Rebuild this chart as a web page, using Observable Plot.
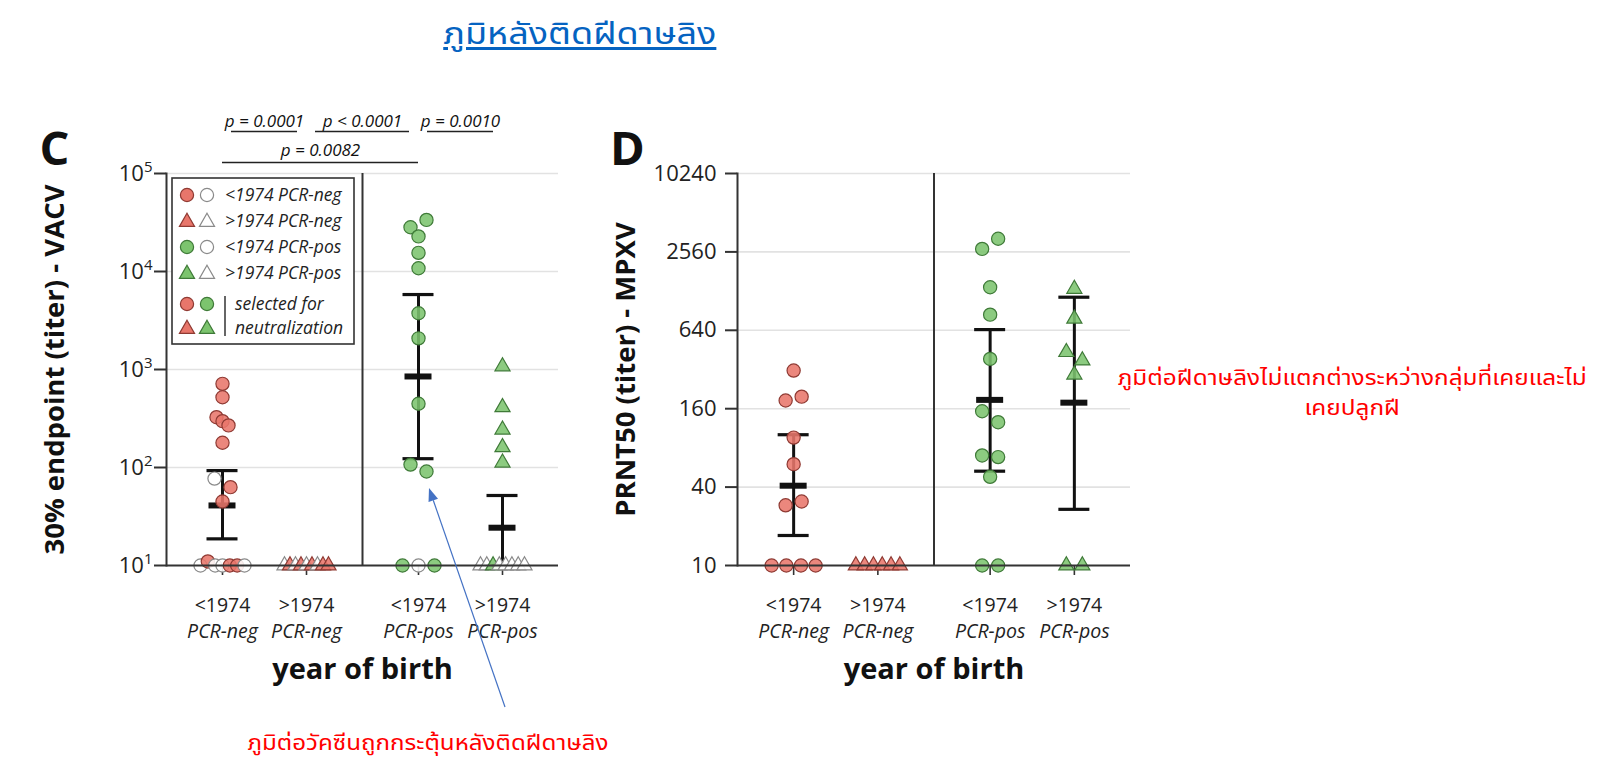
<!DOCTYPE html>
<html><head><meta charset="utf-8">
<script src="https://cdn.jsdelivr.net/npm/d3@7"></script>
<script src="https://cdn.jsdelivr.net/npm/@observablehq/plot@0.6"></script>
<style>
html,body{margin:0;padding:0;background:#fff;}
#page{position:relative;width:1601px;height:779px;overflow:hidden;background:#fff;}
.abs{position:absolute;}
.thai{font-family:Tahoma,"Leelawadee UI","Noto Sans Thai","Noto Sans Thai UI","Loma","Garuda","Noto Sans",sans-serif;}
.thai span{display:inline-block;transform-origin:50% 50%;}
#title{left:330px;width:500px;top:12px;text-align:center;font-size:30px;color:#0563C1;}
#title span{text-decoration:underline;text-underline-offset:3px;transform:scaleX(1.2);}
#noteRight{left:1092px;width:520px;top:364px;text-align:center;font-size:21px;line-height:30px;color:#ff0000;}
#noteRight span{transform:scaleX(1.16);}
#noteBottom{left:178px;width:500px;top:729px;text-align:center;font-size:21px;line-height:30px;color:#ff0000;}
#noteBottom span{transform:scaleX(1.15);}
</style></head>
<body><div id="page">
<div id="title" class="abs thai"><span>ภูมิหลังติดฝีดาษลิง</span></div>
<div id="noteRight" class="abs thai"><span>ภูมิต่อฝีดาษลิงไม่แตกต่างระหว่างกลุ่มที่เคยและไม่</span><br><span>เคยปลูกฝี</span></div>
<div id="noteBottom" class="abs thai"><span>ภูมิต่อวัคซีนถูกกระตุ้นหลังติดฝีดาษลิง</span></div>
</div>
<script>
// ---------------- DATA ----------------
const groupYears = ["<1974", ">1974", "<1974", ">1974"];
const groupPCR = ["PCR-neg", "PCR-neg", "PCR-pos", "PCR-pos"];

// Panel C: 30% endpoint titer (VACV); sel = 1 selected for neutralization (coloured), 0 = open symbol
const vacvOldNeg = [714, 521, 326, 297, 269, 179, 77, 63, 45, 10, 11, 10, 10, 10, 10, 10];
const vacvOldNegSel = [1, 1, 1, 1, 1, 1, 0, 1, 1, 0, 1, 0, 0, 1, 1, 0];
const vacvYoungNeg = [10, 10, 10, 10, 10, 10, 10, 10, 10];
const vacvYoungNegSel = [0, 1, 0, 1, 0, 1, 0, 1, 1];
const vacvOldPos = [28300, 33600, 22800, 15500, 10800, 3750, 2080, 447, 107, 91, 10, 10, 10];
const vacvOldPosSel = [1, 1, 1, 1, 1, 1, 1, 1, 1, 1, 1, 0, 1];
const vacvYoungPos = [1075, 412, 243, 161, 112, 10, 10, 10, 10, 10, 10, 10, 10];
const vacvYoungPosSel = [1, 1, 1, 1, 1, 0, 0, 1, 0, 0, 0, 0, 0];
const vacvMean = [41, null, 849, 24.3];
const vacvLow = [18.7, null, 123, 10];
const vacvHigh = [93, null, 5820, 51.8];
const vacvTicks = [10, 100, 1000, 10000, 100000];

// p-value brackets (panel C)
const pLabels = ["p = 0.0001", "p < 0.0001", "p = 0.0010", "p = 0.0082"];
const pFrom = [0, 1, 2, 0];
const pTo = [1, 2, 3, 2];
const pTier = [2, 2, 2, 1];

// Panel D: PRNT50 titer (MPXV)
const mpxvOldNeg = [314, 185, 198, 96, 60, 29, 31, 10, 10, 10, 10];
const mpxvYoungNeg = [10, 10, 10, 10, 10, 10];
const mpxvOldPos = [2700, 3230, 1370, 844, 386, 153, 126, 70, 68, 48, 10, 10];
const mpxvYoungPos = [1330, 785, 435, 375, 292, 10, 10];
const mpxvMean = [41, null, 187, 178];
const mpxvLow = [17, null, 53, 27];
const mpxvHigh = [101, null, 648, 1149];
const mpxvTicks = [10, 40, 160, 640, 2560, 10240];

// legend entries
const legendRows = ["<1974 PCR-neg", ">1974 PCR-neg", "<1974 PCR-pos", ">1974 PCR-pos"];
const legendSel = ["selected for", "neutralization"];

// ---------------- STYLE ----------------
const FILL = {neg: "#e8766b", pos: "#7cc46e"};
const STROKE = {neg: "#8f3a33", pos: "#3f7a38"};
const OPEN_STROKE = "#8a8a8a";
const AXIS = "#333";
const FONT = "'Open Sans', 'DejaVu Sans', sans-serif";

const groupPos = groupYears.map((_, i) => i + 1 + (i >= 2 ? 1 / 3 : 0));
const sepPos = (groupPos[1] + groupPos[2]) / 2;
const xDomain = [1 / 3, 5];

function dodge(vals, yFn, unitPx) {
  const idx = vals.map((v, i) => i).sort((a, b) => (yFn(vals[a]) - yFn(vals[b])) || (a - b));
  const offs = new Array(vals.length).fill(0);
  let row = [];
  const flush = () => {
    const m = row.slice().sort((a, b) => a - b);
    const n = m.length;
    const spread = yFn(vals[row[row.length - 1]]) - yFn(vals[row[0]]);
    const base = spread > 6 && n > 2 ? 6 : 16;
    const sp = n > 1 ? Math.min(base, 44 / (n - 1)) : 0;
    m.forEach((k, j) => offs[k] = (j - (n - 1) / 2) * sp / unitPx);
    row = [];
  };
  for (const i of idx) {
    if (row.length && yFn(vals[i]) - yFn(vals[row[0]]) > 11) flush();
    row.push(i);
  }
  if (row.length) flush();
  return offs;
}

function buildPoints(valArrs, selArrs, yFn, unitPx) {
  const pts = [];
  valArrs.forEach((vals, g) => {
    const offs = dodge(vals, yFn, unitPx);
    const kind = groupPCR[g] === "PCR-neg" ? "neg" : "pos";
    vals.forEach((v, i) => {
      const sel = selArrs ? selArrs[g][i] : 1;
      pts.push({
        x: groupPos[g] + offs[i], y: v,
        shape: groupYears[g] === "<1974" ? "circle" : "triangle",
        fill: sel ? FILL[kind] : "#ffffff",
        stroke: sel ? STROKE[kind] : OPEN_STROKE
      });
    });
  });
  return pts;
}

function panel(cfg) {
  const {width, height, ml, mr, mt, mb, yDomain, ticks, tickFormat, tickPadding, points, mean, low, high, yTitle, letter, letterDx, brackets} = cfg;
  const unitPx = (width - ml - mr) / (xDomain[1] - xDomain[0]);
  const capW = 15.5 / unitPx, meanW = 13.5 / unitPx;
  const eb = mean.map((m, g) => ({x: groupPos[g], m, lo: low[g], hi: high[g]})).filter(d => d.m != null);
  const circles = points.filter(d => d.shape === "circle");
  const tris = points.filter(d => d.shape === "triangle");
  const C = {textAnchor: "middle", lineAnchor: "middle"};
  const marks = [
    Plot.gridY(ticks.slice(1), {stroke: "#e2e2e2", strokeOpacity: 1, strokeWidth: 1.6}),
    Plot.ruleX([sepPos], {y1: yDomain[0], y2: yDomain[1], stroke: AXIS, strokeWidth: 2}),
    Plot.axisY(ticks, {tickSize: 12, tickFormat: () => "", stroke: AXIS, strokeWidth: 2, label: null}),
    Plot.text(ticks, {y: d => d, frameAnchor: "left", textAnchor: "end", lineAnchor: "middle", dx: -(12 + tickPadding), text: tickFormat, fontSize: 22, fill: "#222"}),
    Plot.axisX(groupPos, {tickSize: 10, tickFormat: () => "", stroke: AXIS, strokeWidth: 1.6, label: null}),
    Plot.frame({anchor: "left", stroke: AXIS, strokeWidth: 2}),
    Plot.text(groupYears, {...C, x: (d, i) => groupPos[i], frameAnchor: "bottom", dy: 51, lineHeight: 1.36,
      text: (d, i) => d + "\n" + groupPCR[i], fontSize: 19.5, fill: "#222"}),
    Plot.text(["year of birth"], {...C, frameAnchor: "bottom", dy: 104, text: d => d, fontSize: 29, fontWeight: "bold", fill: "#111"}),
    Plot.text([yTitle], {...C, frameAnchor: "left", dx: -111, rotate: -90, text: d => d, fontSize: 27.5, fontWeight: "bold", fill: "#111"}),
    Plot.text([letter], {...C, frameAnchor: "top-left", dx: letterDx, dy: -24, text: d => d, fontSize: 47, fontWeight: "bold", fill: "#111"}),
    Plot.ruleX(eb, {x: "x", y1: "lo", y2: "hi", stroke: "#111", strokeWidth: 3}),
    Plot.ruleY(eb, {y: "hi", x1: d => d.x - capW, x2: d => d.x + capW, stroke: "#111", strokeWidth: 3.2}),
    Plot.ruleY(eb, {y: "lo", x1: d => d.x - capW, x2: d => d.x + capW, stroke: "#111", strokeWidth: 3.2}),
    Plot.ruleY(eb, {y: "m", x1: d => d.x - meanW, x2: d => d.x + meanW, stroke: "#111", strokeWidth: 6}),
    Plot.dot(circles, {x: "x", y: "y", r: 6.6, symbol: "circle", fill: "fill", stroke: "stroke", strokeWidth: 1.2, fillOpacity: 0.88}),
    Plot.dot(tris, {x: "x", y: "y", r: 5.6, symbol: "triangle", fill: "fill", stroke: "stroke", strokeWidth: 1.2, fillOpacity: 0.88}),
    Plot.ruleY([yDomain[0]], {stroke: AXIS, strokeWidth: 2})
  ];
  if (brackets) {
    const inset = 9 / unitPx;
    const br = pLabels.map((t, i) => ({
      t, tier: pTier[i],
      x1: groupPos[pFrom[i]] + (pTier[i] === 2 ? inset : 0),
      x2: groupPos[pTo[i]] - (pTier[i] === 2 ? inset : 0)
    }));
    const top = yDomain[1];
    const t2 = br.filter(d => d.tier === 2), t1 = br.filter(d => d.tier === 1);
    marks.push(
      Plot.ruleY(t2, {y: () => top, x1: "x1", x2: "x2", dy: -42, stroke: "#222", strokeWidth: 1.5}),
      Plot.ruleY(t1, {y: () => top, x1: "x1", x2: "x2", dy: -11, stroke: "#222", strokeWidth: 1.5}),
      Plot.text(t2, {...C, y: () => top, x: d => (d.x1 + d.x2) / 2, text: "t", dy: -52, fontSize: 17, fontStyle: "italic", fill: "#111"}),
      Plot.text(t1, {...C, y: () => top, x: d => (d.x1 + d.x2) / 2, text: "t", dy: -23, fontSize: 17, fontStyle: "italic", fill: "#111"})
    );
  }
  const svg = Plot.plot({
    width, height, marginLeft: ml, marginRight: mr, marginTop: mt, marginBottom: mb,
    x: {type: "linear", domain: xDomain, axis: null},
    y: {type: "log", domain: yDomain, axis: null},
    color: {type: "identity"},
    style: {fontFamily: FONT, fontSize: "20px", background: "transparent", overflow: "visible", color: "#222"},
    marks
  });
  // italic second line (PCR status) of the category labels
  d3.select(svg).selectAll("text tspan").each(function () {
    if (/^PCR-/.test(this.textContent)) d3.select(this).attr("font-style", "italic");
  });
  // superscript exponents for the power-of-ten tick labels
  d3.select(svg).selectAll("text").each(function () {
    const t = this.textContent;
    if (!/^10\^\d$/.test(t)) return;
    const e = t.slice(3);
    const s = d3.select(this);
    s.text(null);
    s.append("tspan").text("10");
    s.append("tspan").attr("dy", "-0.55em").attr("font-size", "15px").text(e);
  });
  return svg;
}

const page = document.getElementById("page");

// Panel C
{
  const W = 580, H = 700, ml = 166, mr = 22, mt = 173, mb = 135;
  const yD = [10, 1e5];
  const yFn = d3.scaleLog().domain(yD).range([H - mb, mt]);
  const unitPx = (W - ml - mr) / (xDomain[1] - xDomain[0]);
  const pts = buildPoints([vacvOldNeg, vacvYoungNeg, vacvOldPos, vacvYoungPos],
    [vacvOldNegSel, vacvYoungNegSel, vacvOldPosSel, vacvYoungPosSel], yFn, unitPx);
  const svg = panel({width: W, height: H, ml, mr, mt, mb, yDomain: yD, ticks: vacvTicks,
    tickFormat: d => "10^" + Math.round(Math.log10(d)), tickPadding: 2, points: pts,
    mean: vacvMean, low: vacvLow, high: vacvHigh, yTitle: "30% endpoint (titer) - VACV",
    letter: "C", letterDx: -112, brackets: true});
  svg.style.position = "absolute"; svg.style.left = "0px"; svg.style.top = "0px";
  page.appendChild(svg);
}

// Panel D
{
  const W = 570, H = 700, ml = 157, mr = 20, mt = 173, mb = 135;
  const yD = [10, 10240];
  const yFn = d3.scaleLog().domain(yD).range([H - mb, mt]);
  const unitPx = (W - ml - mr) / (xDomain[1] - xDomain[0]);
  const pts = buildPoints([mpxvOldNeg, mpxvYoungNeg, mpxvOldPos, mpxvYoungPos], null, yFn, unitPx);
  const svg = panel({width: W, height: H, ml, mr, mt, mb, yDomain: yD, ticks: mpxvTicks,
    tickFormat: d => String(d), tickPadding: 9, points: pts,
    mean: mpxvMean, low: mpxvLow, high: mpxvHigh, yTitle: "PRNT50 (titer) - MPXV",
    letter: "D", letterDx: -110, brackets: false});
  svg.style.position = "absolute"; svg.style.left = "580px"; svg.style.top = "0px";
  page.appendChild(svg);
}

// Overlay: legend + arrow
{
  const ov = d3.select(page).append("svg").attr("class", "abs")
    .attr("width", 1601).attr("height", 779)
    .style("left", "0px").style("top", "0px").style("pointer-events", "none")
    .style("font-family", FONT);
  const lg = ov.append("g");
  lg.append("rect").attr("x", 172).attr("y", 178).attr("width", 182).attr("height", 166)
    .attr("fill", "#fff").attr("stroke", "#333").attr("stroke-width", 1.6);
  const tri = d3.symbol(d3.symbolTriangle, Math.PI * 5.6 * 5.6);
  const sym = (g, x, y, shape, fill, stroke) => {
    if (shape === "circle") g.append("circle").attr("cx", x).attr("cy", y).attr("r", 6.6)
      .attr("fill", fill).attr("stroke", stroke).attr("stroke-width", 1.2);
    else g.append("path").attr("d", tri()).attr("transform", `translate(${x},${y + 1})`)
      .attr("fill", fill).attr("stroke", stroke).attr("stroke-width", 1.2);
  };
  const rowY = [195, 221, 247, 273];
  legendRows.forEach((t, i) => {
    const shape = t.startsWith("<") ? "circle" : "triangle";
    const kind = t.endsWith("neg") ? "neg" : "pos";
    sym(lg, 187, rowY[i], shape, FILL[kind], STROKE[kind]);
    sym(lg, 207, rowY[i], shape, "#fff", OPEN_STROKE);
    lg.append("text").attr("x", 225).attr("y", rowY[i]).attr("dy", "0.35em")
      .attr("font-size", 17.5).attr("font-style", "italic").attr("fill", "#222").text(t);
  });
  sym(lg, 187, 304, "circle", FILL.neg, STROKE.neg);
  sym(lg, 207, 304, "circle", FILL.pos, STROKE.pos);
  sym(lg, 187, 328, "triangle", FILL.neg, STROKE.neg);
  sym(lg, 207, 328, "triangle", FILL.pos, STROKE.pos);
  lg.append("line").attr("x1", 225).attr("x2", 225).attr("y1", 296).attr("y2", 336)
    .attr("stroke", "#333").attr("stroke-width", 1.5);
  legendSel.forEach((t, i) => {
    lg.append("text").attr("x", 235).attr("y", [304, 328][i]).attr("dy", "0.35em")
      .attr("font-size", 17.5).attr("font-style", "italic").attr("fill", "#222").text(t);
  });
  // arrow
  const x0 = 505, y0 = 707, x1 = 429, y1 = 488;
  const ang = Math.atan2(y1 - y0, x1 - x0);
  const L = 13, Wd = 5;
  const bx = x1 - L * Math.cos(ang), by = y1 - L * Math.sin(ang);
  ov.append("line").attr("x1", x0).attr("y1", y0).attr("x2", bx).attr("y2", by)
    .attr("stroke", "#4472C4").attr("stroke-width", 1.2);
  ov.append("polygon").attr("points", [
    [x1, y1],
    [bx + Wd * Math.sin(ang), by - Wd * Math.cos(ang)],
    [bx - Wd * Math.sin(ang), by + Wd * Math.cos(ang)]
  ].map(p => p.join(",")).join(" ")).attr("fill", "#4472C4");
}
</script>
</body></html>
